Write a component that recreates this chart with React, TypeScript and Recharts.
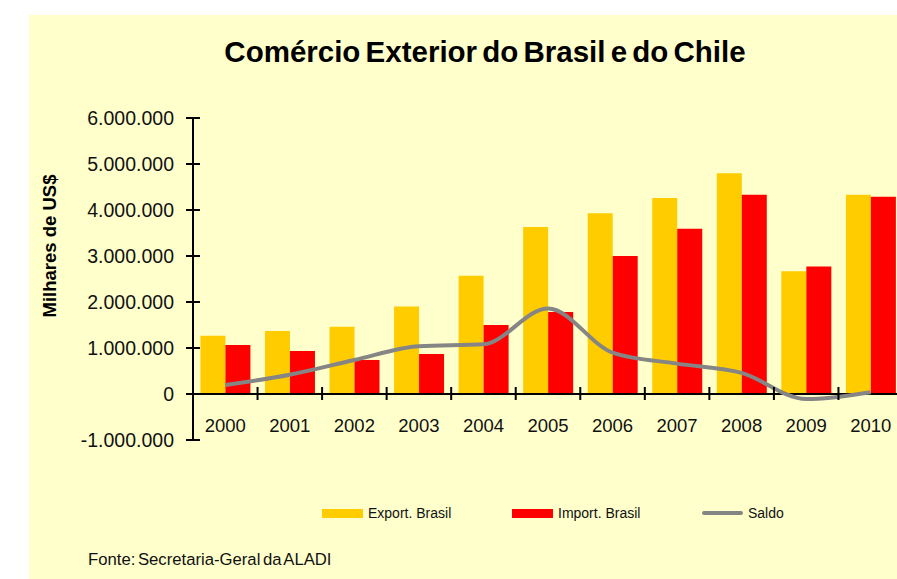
import React from 'react';
import { ComposedChart, Bar, Line, XAxis, YAxis, ReferenceLine } from 'recharts';

const ANOS = ['2000', '2001', '2002', '2003', '2004', '2005', '2006', '2007', '2008', '2009', '2010'];
const EXPORT_BRASIL = [1267000, 1370000, 1460000, 1900000, 2570000, 3630000, 3930000, 4260000, 4800000, 2670000, 4330000];
const IMPORT_BRASIL = [1065000, 935000, 740000, 870000, 1500000, 1780000, 3000000, 3590000, 4330000, 2770000, 4290000];
const SALDO = [196000, 420000, 740000, 1040000, 1080000, 1860000, 900000, 660000, 460000, -110000, 40000];
const Y_TICKS = [-1000000, 0, 1000000, 2000000, 3000000, 4000000, 5000000, 6000000];

const SERIES = [
  { key: 'exportacao', nome: 'Export. Brasil', cor: '#FFCC00' },
  { key: 'importacao', nome: 'Import. Brasil', cor: '#FF0000' },
  { key: 'saldo', nome: 'Saldo', cor: '#858585' },
];

const rows = ANOS.map((ano, i) => ({
  ano,
  exportacao: EXPORT_BRASIL[i],
  importacao: IMPORT_BRASIL[i],
  saldo: SALDO[i],
}));

// geometria do gráfico
const W = 903;
const H = 579;
const M = { top: 118, right: 0, left: 73, bottom: 99 };
const Y_AXIS_W = 120;
const PLOT_W = W - M.left - Y_AXIS_W - M.right;
const PLOT_H = H - M.top - M.bottom - 40;
const BAND = PLOT_W / ANOS.length;
const PX_PER_UNIT = PLOT_H / 7000000;
const FONT = '"Liberation Sans", Arial, sans-serif';

const fmt = (v: number) => {
  const s = String(Math.abs(v)).replace(/\B(?=(\d{3})+(?!\d))/g, '.');
  return v < 0 ? '-' + s : s;
};

const YTick = ({ x, y, payload }: any) => (
  <g>
    <line x1={x + 19 - 7} x2={x + 19 + 7} y1={y} y2={y} stroke="#000" strokeWidth={2} />
    <text x={x} y={y} dy={7} textAnchor="end" fontSize={19.5} fill="#111" fontFamily={FONT}>
      {fmt(payload.value)}
    </text>
  </g>
);

const XTick = ({ x, y, payload, index }: any) => {
  const zeroY = y - 1000000 * PX_PER_UNIT;
  return (
    <g>
      {index > 0 && (
        <line x1={x - BAND / 2} x2={x - BAND / 2} y1={zeroY - 7} y2={zeroY + 6} stroke="#000" strokeWidth={2} />
      )}
      <text x={x} y={zeroY + 38} textAnchor="middle" fontSize={18.5} fill="#111" fontFamily={FONT}>
        {payload.value}
      </text>
    </g>
  );
};

export default function App() {
  return (
    <div style={{ position: 'absolute', left: 0, top: 0, width: 897, height: 579, overflow: 'hidden', background: '#fff', fontFamily: FONT }}>
      <div style={{ position: 'absolute', left: 29, top: 15, width: 868, height: 564, background: '#FFFFCC' }} />
      <div style={{ position: 'absolute', left: 0, width: 970, top: 35, textAlign: 'center', fontSize: 29.5, fontWeight: 'bold', color: '#000', wordSpacing: -3 }}>
        Comércio Exterior do Brasil e do Chile
      </div>
      <div
        style={{
          position: 'absolute', left: 50, top: 246, transform: 'translate(-50%, -50%) rotate(-90deg)',
          whiteSpace: 'nowrap', fontSize: 18.5, fontWeight: 'bold', color: '#000',
        }}
      >
        Milhares de US$
      </div>
      <div style={{ position: 'absolute', left: 0, top: 0 }}>
        <ComposedChart width={W} height={H} data={rows} margin={M} barGap={0} barCategoryGap="11.5%">
          <YAxis
            width={Y_AXIS_W}
            domain={[-1000000, 6000000]}
            ticks={Y_TICKS}
            interval={0}
            axisLine={{ stroke: '#000', strokeWidth: 2 }}
            tickLine={false}
            tickSize={0}
            tickMargin={19}
            tick={<YTick />}
          />
          <XAxis
            dataKey="ano"
            height={40}
            axisLine={false}
            tickLine={false}
            tickSize={0}
            tickMargin={0}
            interval={0}
            tick={<XTick />}
          />
          <Bar dataKey="exportacao" fill={SERIES[0].cor} isAnimationActive={false} />
          <Bar dataKey="importacao" fill={SERIES[1].cor} isAnimationActive={false} />
          <ReferenceLine y={0} stroke="#000" strokeWidth={2} />
          <Line dataKey="saldo" type="monotone" stroke={SERIES[2].cor} strokeWidth={4} dot={false} isAnimationActive={false} />
        </ComposedChart>
      </div>
      <div style={{ position: 'absolute', left: 322, top: 505, display: 'flex', fontSize: 14, color: '#111' }}>
        {SERIES.map((s) => (
          <div key={s.key} style={{ width: 190, display: 'flex', alignItems: 'center' }}>
            <span
              style={{
                display: 'inline-block', width: 41, height: s.key === 'saldo' ? 4 : 9,
                borderRadius: s.key === 'saldo' ? 2 : 0, background: s.cor, marginRight: 5,
              }}
            />
            {s.nome}
          </div>
        ))}
      </div>
      <div style={{ position: 'absolute', left: 88, top: 550, fontSize: 16.7, color: '#111', wordSpacing: -2 }}>
        Fonte: Secretaria-Geral da ALADI
      </div>
    </div>
  );
}
